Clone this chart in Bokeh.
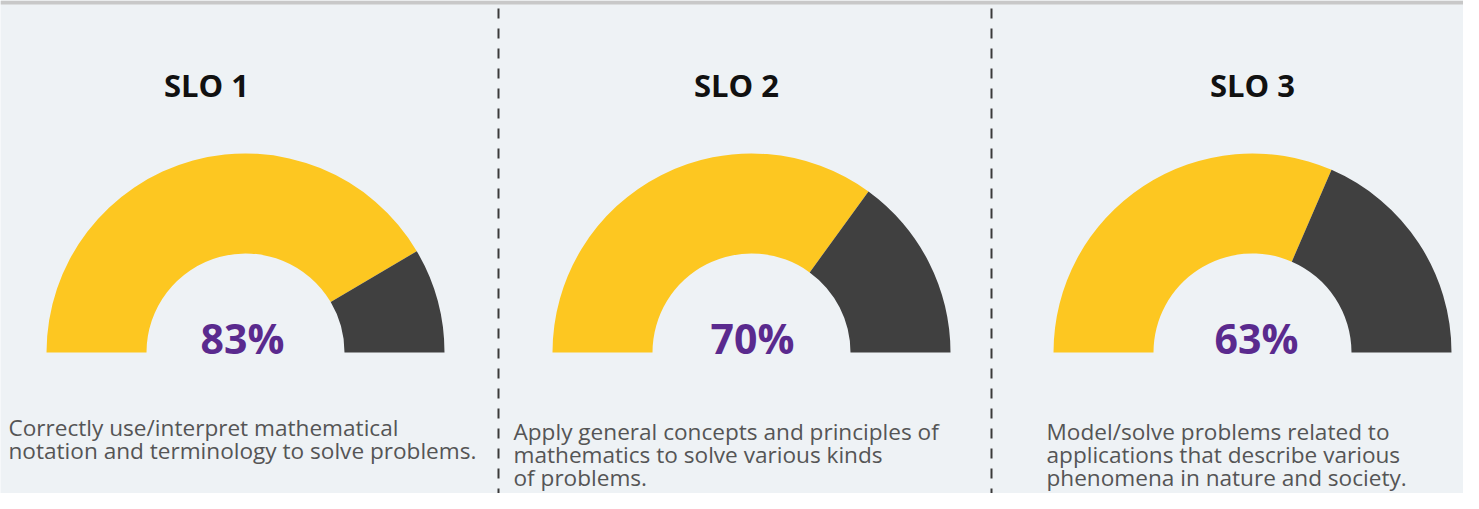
import math
from bokeh.plotting import figure
from bokeh.models import Range1d
from bokeh.core.properties import value
from bokeh.embed import file_html
from bokeh.resources import INLINE

# ---- data ----
titles = ["SLO 1", "SLO 2", "SLO 3"]
percents = [83, 70, 63]
descriptions = [
    ["Correctly use/interpret mathematical", "notation and terminology to solve problems."],
    ["Apply general concepts and principles of", "mathematics to solve various kinds", "of problems."],
    ["Model/solve problems related to", "applications that describe various", "phenomena in nature and society."],
]

# ---- layout (picture pixel coordinates; data y = H - screen y) ----
W, H = 1463, 493
BASE_K = 0.43  # empirical baseline correction (fraction of font size)

gauge_cx = [245, 751, 1252]
gauge_base = 352
r_in, r_out = 99, 199
title_x = [206, 736, 1252]
title_base = 98
title_fs = 31
pct_x = [242, 752, 1256]
pct_base = 355
pct_fs = 41
desc_x = [8, 513, 1046]
desc_base0 = [437, 441, 441]
desc_fs = 22.6
line_h = 23
sep_x = [498, 991]

BG = "#eef2f5"
YELLOW = "#fdc721"
DARK = "#404040"
PURPLE = "#5a2a8e"
GREY = "#555555"


def ty(base, fs):
    return H - (base - BASE_K * fs)


p = figure(width=W, height=H, output_backend="svg", toolbar_location=None,
           x_range=Range1d(0, W), y_range=Range1d(0, H),
           min_border=0, background_fill_color=BG, border_fill_color=BG)
p.axis.visible = False
p.grid.visible = False
p.outline_line_color = None

# top grey bar
p.quad(left=[0], right=[W], bottom=[H - 4], top=[H], fill_color="#c8c8c8", line_color=None)

# dashed separators
for sx in sep_x:
    p.segment(x0=[sx], y0=[H - 8], x1=[sx], y1=[0], line_color="#3a3a3a",
              line_width=2, line_dash="10 10")

for i in range(3):
    v = percents[i] / 100.0
    split = math.pi * (1 - v)
    cy = H - gauge_base
    p.annular_wedge(x=[gauge_cx[i]], y=[cy], inner_radius=r_in, outer_radius=r_out,
                    start_angle=split, end_angle=math.pi, fill_color=YELLOW, line_color=None)
    p.annular_wedge(x=[gauge_cx[i]], y=[cy], inner_radius=r_in, outer_radius=r_out,
                    start_angle=0, end_angle=split, fill_color=DARK, line_color=None)
    p.text(x=[title_x[i]], y=[ty(title_base, title_fs)], text=[titles[i]], text_align="center",
           text_baseline="alphabetic", text_font=value("Open Sans"), text_font_style="bold",
           text_font_size=f"{title_fs}px", text_color="#111111")
    p.text(x=[pct_x[i]], y=[ty(pct_base, pct_fs)], text=[f"{percents[i]}%"], text_align="center",
           text_baseline="alphabetic", text_font=value("Open Sans"), text_font_style="bold",
           text_font_size=f"{pct_fs}px", text_color=PURPLE)
    for j, line in enumerate(descriptions[i]):
        p.text(x=[desc_x[i]], y=[ty(desc_base0[i] + j * line_h, desc_fs)], text=[line],
               text_align="left", text_baseline="alphabetic", text_font=value("Open Sans"),
               text_font_size=f"{desc_fs}px", text_color=GREY)

open("out.html", "w").write(file_html(p, INLINE))
